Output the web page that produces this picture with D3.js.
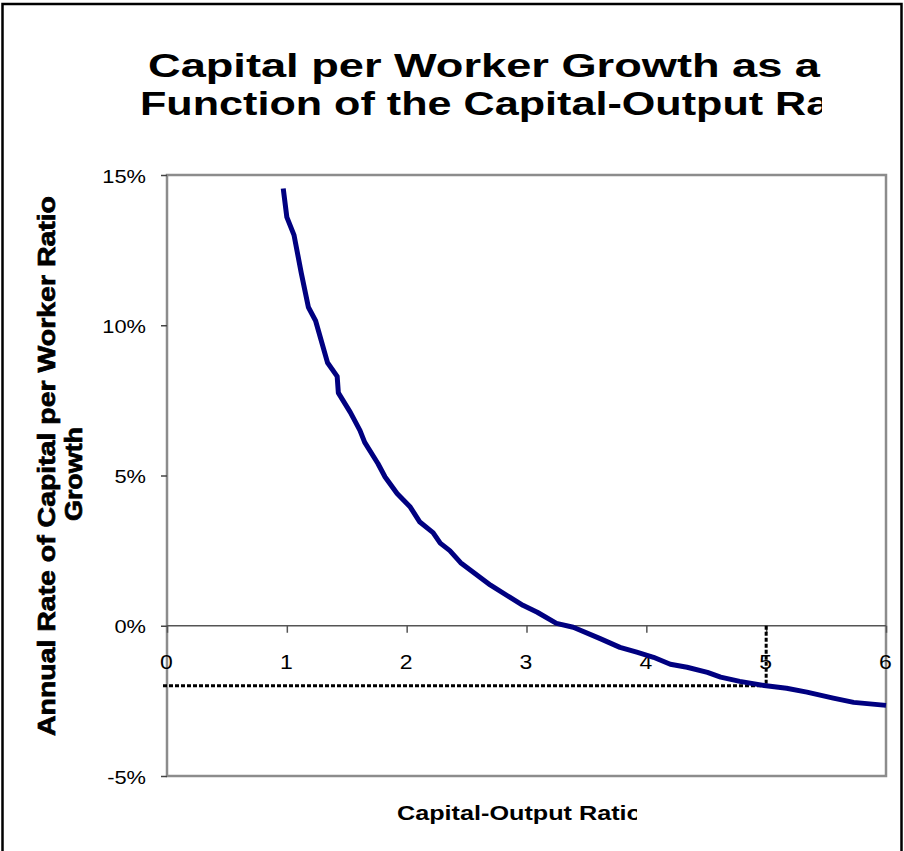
<!DOCTYPE html>
<html>
<head>
<meta charset="utf-8">
<script src="https://cdn.jsdelivr.net/npm/d3@7"></script>
<style>
  html, body { margin: 0; padding: 0; background: #fff; }
  svg { display: block; }
  text { font-family: "Liberation Sans", Arial, sans-serif; }
</style>
</head>
<body>
<svg id="chart" width="904" height="851"></svg>
<script>
// Capital-output ratio (x) and annual growth of capital per worker, in percent (y)
const ratio = [0.97, 1.00, 1.06, 1.12, 1.18, 1.24, 1.34, 1.42, 1.43, 1.53, 1.61, 1.65,
  1.76, 1.82, 1.92, 2.03, 2.11, 2.22, 2.28, 2.36, 2.45, 2.55, 2.70, 2.86, 2.97, 3.09,
  3.25, 3.39, 3.61, 3.78, 3.92, 4.06, 4.20, 4.34, 4.51, 4.62, 4.78, 5.00, 5.17, 5.34,
  5.56, 5.73, 6.00];
const growth = [14.55, 13.6, 13.0, 11.75, 10.6, 10.15, 8.75, 8.3, 7.75, 7.1, 6.5, 6.1,
  5.4, 4.95, 4.4, 3.95, 3.45, 3.1, 2.75, 2.5, 2.1, 1.8, 1.35, 0.95, 0.68, 0.45,
  0.08, -0.05, -0.42, -0.72, -0.88, -1.05, -1.28, -1.38, -1.55, -1.71, -1.85, -2.0, -2.08, -2.21,
  -2.41, -2.55, -2.65];

// Steady-state reference point marked with dotted guides
const markRatio = [5];
const markGrowth = [-2];

const xTicks = [0, 1, 2, 3, 4, 5, 6];
const yTicks = [-5, 0, 5, 10, 15];

const titleLines = ["Capital per Worker Growth as a", "Function of the Capital-Output Ratio"];
const yTitleLines = ["Annual Rate of Capital per Worker Ratio", "Growth"];
const xTitle = "Capital-Output Ratio";

const svg = d3.select("#chart");

const x = d3.scaleLinear().domain([0, 6]).range([167, 886]);
const y = d3.scaleLinear().domain([-5, 15]).range([776, 175]);

const defs = svg.append("defs");
defs.append("clipPath").attr("id", "titleClip")
  .append("rect").attr("x", 0).attr("y", 0).attr("width", 822).attr("height", 160);
defs.append("clipPath").attr("id", "xTitleClip")
  .append("rect").attr("x", 0).attr("y", 790).attr("width", 637).attr("height", 50);

// Outer chart frame
svg.append("rect")
  .attr("x", 2.5).attr("y", 4).attr("width", 899).attr("height", 900)
  .attr("fill", "#fff").attr("stroke", "#000").attr("stroke-width", 2.5);

// Title: two lines, the second runs past the title box and is cut off
const title = svg.append("g").attr("clip-path", "url(#titleClip)");
const titlePos = [[148, 77, 672], [140, 115, 743]];
titleLines.forEach((t, i) => {
  title.append("text")
    .attr("x", titlePos[i][0]).attr("y", titlePos[i][1])
    .attr("font-size", 34).attr("font-weight", "bold").attr("fill", "#000")
    .attr("textLength", titlePos[i][2]).attr("lengthAdjust", "spacingAndGlyphs")
    .text(t);
});

// Plot area
svg.append("rect")
  .attr("x", x(0)).attr("y", y(15))
  .attr("width", x(6) - x(0)).attr("height", y(-5) - y(15))
  .attr("fill", "#fff").attr("stroke", "#8c8c8c").attr("stroke-width", 2.5);

// Y axis ticks and labels
const yAxis = svg.append("g").attr("transform", `translate(${x(0)},0)`)
  .call(d3.axisLeft(y).tickValues(yTicks).tickSize(6).tickFormat(d => d + "%"));
yAxis.select(".domain").remove();
yAxis.selectAll(".tick line").attr("stroke", "#444").attr("stroke-width", 1.5);
yAxis.selectAll(".tick text")
  .attr("x", null).attr("dy", null)
  .attr("font-size", 19).attr("fill", "#000")
  .attr("text-anchor", "end")
  .attr("transform", `translate(-21,7) scale(1.15,1)`);

// X axis along the zero line
const xAxis = svg.append("g").attr("transform", `translate(0,${y(0)})`)
  .call(d3.axisBottom(x).tickValues(xTicks).tickSize(7).tickFormat(d3.format("d")));
xAxis.select(".domain").attr("stroke", "#555").attr("stroke-width", 1.5)
  .attr("d", `M${x(0)},0H${x(6)}`);
xAxis.selectAll(".tick line").attr("stroke", "#555").attr("stroke-width", 1.5);
xAxis.selectAll(".tick text")
  .attr("y", null).attr("dy", null)
  .attr("font-size", 20).attr("fill", "#000")
  .attr("transform", `translate(-1,43) scale(1.15,1)`);

// Dotted guides to the marked point
svg.append("path")
  .attr("d", `M${x(0) - 4},${y(markGrowth[0])}H${x(markRatio[0])}`)
  .attr("fill", "none").attr("stroke", "#000").attr("stroke-width", 3)
  .attr("stroke-dasharray", "4,2");
svg.append("path")
  .attr("d", `M${x(markRatio[0])},${y(0)}V${y(markGrowth[0])}`)
  .attr("fill", "none").attr("stroke", "#000").attr("stroke-width", 3)
  .attr("stroke-dasharray", "4,2");

// Growth curve
const pts = ratio.map((r, i) => [r, growth[i]]);
svg.append("path")
  .datum(pts)
  .attr("d", d3.line().x(d => x(d[0])).y(d => y(d[1])))
  .attr("fill", "none").attr("stroke", "#000080").attr("stroke-width", 5)
  .attr("stroke-linejoin", "round");

// Y axis title (two rotated lines)
const yTitlePos = [[55, 466, 540], [82, 474, 94]];
yTitleLines.forEach((t, i) => {
  svg.append("text")
    .attr("transform", `translate(${yTitlePos[i][0]},${yTitlePos[i][1]}) rotate(-90)`)
    .attr("text-anchor", "middle")
    .attr("font-size", 24).attr("font-weight", "bold")
    .attr("fill", "#000").attr("stroke", "#000").attr("stroke-width", 0.7)
    .attr("textLength", yTitlePos[i][2]).attr("lengthAdjust", "spacingAndGlyphs")
    .text(t);
});

// X axis title
svg.append("g").attr("clip-path", "url(#xTitleClip)")
  .append("text")
  .attr("x", 397).attr("y", 820)
  .attr("font-size", 21).attr("font-weight", "bold").attr("fill", "#000")
  .attr("textLength", 245).attr("lengthAdjust", "spacingAndGlyphs")
  .text(xTitle);
</script>
</body>
</html>
